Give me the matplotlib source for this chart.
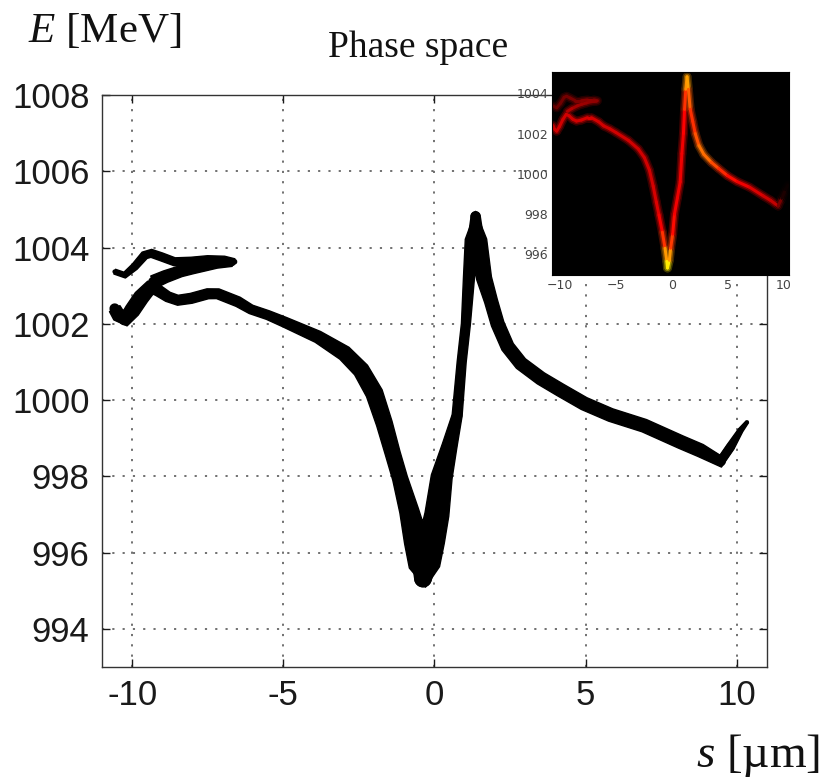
import matplotlib
matplotlib.use("Agg")
import matplotlib.pyplot as plt
from matplotlib.collections import LineCollection
from matplotlib.patches import Polygon
import numpy as np

plt.rcParams["mathtext.fontset"] = "custom"
plt.rcParams["mathtext.it"] = "Liberation Serif:italic"
plt.rcParams["mathtext.rm"] = "Liberation Serif"

# Phase space of the bunch (s in um, E in MeV)
# width: visible band thickness (px), glow: brightness in the density inset (0-1)

# head of the bunch, upper arm (left -> right)
upper_s = [-10.58, -10.25, -9.92, -9.59, -9.37, -9.04, -8.6, -8.05, -7.5, -6.95, -6.62]
upper_E = [1003.37, 1003.28, 1003.5, 1003.8, 1003.85, 1003.76, 1003.63, 1003.63, 1003.67, 1003.67, 1003.63]
upper_width = [5, 6, 7, 8, 8, 8, 8, 9, 9, 8, 6]
upper_glow = [0.12, 0.14, 0.15, 0.16, 0.16, 0.16, 0.17, 0.18, 0.2, 0.2, 0.18]

# head of the bunch, middle arm (right -> left)
mid_s = [-6.7, -7.2, -7.6, -8.0, -8.4, -8.9, -9.3]
mid_E = [1003.6, 1003.58, 1003.52, 1003.46, 1003.38, 1003.24, 1003.1]
mid_width = [7, 9, 10, 11, 11, 12, 13]
mid_glow = [0.2, 0.2, 0.21, 0.22, 0.22, 0.24, 0.26]

# main body of the bunch (hook at the head -> tail)
main_s = [-10.58, -10.45, -10.25, -10.0, -9.7, -9.4, -9.15, -8.82, -8.49, -8.05,
          -7.5, -7.17, -6.5, -6.07, -5.51, -4.97, -3.86, -2.98, -2.43, -1.99,
          -1.66, -1.38, -1.14, -0.84, -0.6, -0.44, -0.38, -0.22, -0.1, 0.08,
          0.24, 0.5, 0.75, 0.9, 1.04, 1.14, 1.25, 1.36, 1.48, 1.64,
          1.87, 2.09, 2.42, 2.86, 3.52, 4.18, 4.95, 5.83, 6.94, 8.15,
          8.8, 9.47, 9.8, 10.13, 10.35]
main_E = [1002.40, 1002.22, 1002.12, 1002.35, 1002.7, 1002.95, 1002.88, 1002.71, 1002.62, 1002.67,
          1002.79, 1002.79, 1002.58, 1002.38, 1002.23, 1002.05, 1001.66, 1001.23, 1000.79, 1000.18,
          999.39, 998.6, 997.95, 997.1, 996.3, 995.65, 995.32, 995.7, 996.3, 997.0,
          997.99, 998.8, 999.6, 1001.0, 1002.0, 1003.2, 1004.2, 1004.82, 1004.2, 1003.2,
          1002.6, 1002.0, 1001.4, 1000.96, 1000.57, 1000.26, 999.91, 999.61, 999.33, 998.9,
          998.68, 998.4, 998.78, 999.21, 999.43]
main_width = [12, 13, 14, 15, 15, 14, 11, 10, 10, 10,
              10, 10, 10, 9, 9, 10, 12, 15, 16, 17,
              16, 15, 15, 19, 24, 24, 18, 24, 26, 24,
              21, 15, 10, 9, 9, 11, 14, 10, 15, 15,
              13, 13, 13, 13, 13, 13, 13, 13, 13, 13,
              13, 12, 8, 5, 3]
main_glow = [0.28, 0.28, 0.3, 0.3, 0.3, 0.3, 0.3, 0.3, 0.3, 0.3,
             0.31, 0.31, 0.3, 0.3, 0.3, 0.3, 0.3, 0.3, 0.3, 0.3,
             0.3, 0.31, 0.33, 0.38, 0.5, 0.68, 0.75, 0.68, 0.5, 0.4,
             0.36, 0.34, 0.34, 0.34, 0.35, 0.38, 0.5, 0.66, 0.55, 0.45,
             0.42, 0.45, 0.52, 0.55, 0.5, 0.45, 0.4, 0.36, 0.33, 0.3,
             0.29, 0.27, 0.06, 0.0, 0.0]

branches = [
    (upper_s, upper_E, upper_width, upper_glow),
    (mid_s, mid_E, mid_width, mid_glow),
    (main_s, main_E, main_width, main_glow),
]

main_xticks = [-10, -5, 0, 5, 10]
main_yticks = [994, 996, 998, 1000, 1002, 1004, 1006, 1008]
inset_yticks = [996, 998, 1000, 1002, 1004]


def segments(s, e):
    pts = np.column_stack([s, e]).reshape(-1, 1, 2)
    return np.concatenate([pts[:-1], pts[1:]], axis=1)


def seg_mean(v):
    v = np.asarray(v, dtype=float)
    return (v[:-1] + v[1:]) / 2


def band(ax, s, e, w):
    # outline of a band of varying thickness, built in pixel space
    xy = ax.transData.transform(np.column_stack([s, e]))
    d = np.gradient(xy, axis=0)
    n = np.column_stack([-d[:, 1], d[:, 0]])
    n /= np.linalg.norm(n, axis=1)[:, None]
    half = np.asarray(w, dtype=float)[:, None] / 2
    outline = np.vstack([xy + n * half, (xy - n * half)[::-1]])
    outline = ax.transData.inverted().transform(outline)
    ax.add_patch(Polygon(outline, closed=True, facecolor="black", edgecolor="black",
                         linewidth=1.0, joinstyle="round", zorder=3))
    lc = LineCollection(segments(s, e), linewidths=seg_mean(w) * 0.72 * 0.85,
                        colors="black", capstyle="round", joinstyle="round", zorder=3)
    ax.add_collection(lc)


fig = plt.figure(figsize=(8.26, 7.78), dpi=100)

# Main band
ax = fig.add_axes([0.1235, 0.1427, 0.805, 0.735])
ax.set_xlim(-11, 11)
ax.set_ylim(993, 1008)
ax.set_xticks(main_xticks)
ax.set_yticks(main_yticks)
ax.set_xticklabels([str(t) for t in main_xticks])
ax.tick_params(direction="in", length=6, width=1, top=True, right=True,
               labelsize=25, pad=9, colors="#1a1a1a")
for lab in ax.get_xticklabels() + ax.get_yticklabels():
    lab.set_family("Liberation Sans")
for sp in ax.spines.values():
    sp.set_color("#333333")
    sp.set_linewidth(1.0)
ax.set_axisbelow(True)
ax.grid(True, color="#666666", linestyle=(0, (1.2, 4.5)), linewidth=1.3)

for s, e, w, g in branches:
    band(ax, s, e, w)

# Density inset
ins = fig.add_axes([0.6687, 0.6465, 0.287, 0.2613])
ins.set_facecolor("black")
ins.set_xlim(-10.64, 10.48)
ins.set_ylim(994.97, 1005.07)
ins.set_xticks(main_xticks)
ins.set_yticks(inset_yticks)
ins.tick_params(length=0, labelsize=9, pad=3, colors="#444444")
for sp in ins.spines.values():
    sp.set_color("black")

cmap = plt.get_cmap("hot")
for scale, width in [(0.25, 9), (0.55, 6), (1.0, 3)]:
    for s, e, w, g in branches:
        cols = cmap(seg_mean(g))
        cols[:, :3] *= scale
        lc = LineCollection(segments(s, e), linewidths=width * 0.72, colors=cols,
                            capstyle="round", joinstyle="round")
        ins.add_collection(lc)

# Labels
fig.text(28 / 826, 1 - 42 / 778, r"$E$ [MeV]", family="Liberation Serif",
         fontsize=31, ha="left", va="baseline", color="#111111")
fig.text(418 / 826, 1 - 57 / 778, "Phase space", family="Liberation Serif",
         fontsize=27, ha="center", va="baseline", color="#111111")
fig.text(820 / 826, 1 - 767 / 778, r"$s$ [µm]", family="Liberation Serif",
         fontsize=34, ha="right", va="baseline", color="#111111")

fig.savefig("out.png", dpi=100)
